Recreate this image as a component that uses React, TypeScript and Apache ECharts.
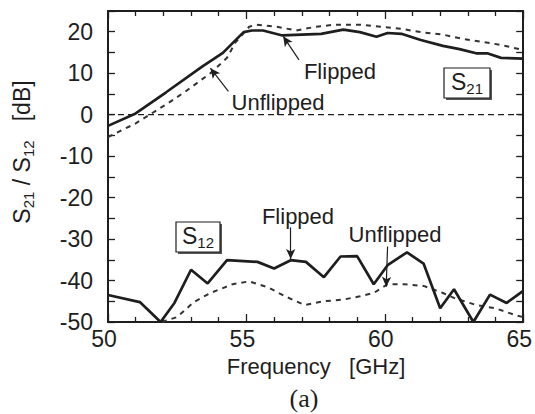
import React, { useEffect, useRef } from "react";
import * as echarts from "echarts";

// S21 curves
const s21FlippedFreq = [50, 51.0, 52.1, 53.4, 54.15, 54.9, 55.2, 55.6, 56.3, 57.0, 57.7, 58.5, 59.1, 59.7, 60.1, 60.6, 61.3, 62.1, 62.7, 63.3, 63.7, 64.2, 65];
const s21FlippedVal = [-2.7, 0.3, 5.4, 11.6, 14.9, 19.9, 20.3, 20.3, 19.1, 19.3, 19.5, 20.5, 19.9, 18.8, 19.7, 19.5, 18.0, 16.6, 15.8, 14.8, 14.8, 13.7, 13.5];
const s21UnflippedFreq = [50, 51.0, 51.6, 52.2, 52.8, 53.7, 54.3, 54.6, 55.1, 55.35, 56.1, 56.8, 57.5, 58.2, 59.1, 59.9, 60.6, 61.3, 62.1, 62.8, 63.5, 64.2, 65];
const s21UnflippedVal = [-5.4, -2.1, 0.4, 2.9, 5.6, 10.0, 13.7, 17.4, 21.2, 21.7, 21.2, 20.3, 21.2, 21.7, 21.7, 21.2, 20.7, 19.9, 19.3, 18.3, 17.6, 16.8, 15.6];

// S12 curves
const s12FlippedFreq = [50, 51.15, 51.9, 52.4, 53.0, 53.6, 54.3, 55.4, 56.0, 56.6, 57.15, 57.8, 58.4, 59.0, 59.6, 60.1, 60.8, 61.4, 62.0, 62.5, 63.2, 63.8, 64.4, 65];
const s12FlippedVal = [-43.5, -45.2, -50, -45.4, -37.4, -40.7, -35.1, -35.5, -37.1, -35.1, -35.5, -39.2, -34.2, -34.1, -40.9, -36.3, -33.2, -35.9, -46.7, -42.1, -50, -43.4, -45.4, -42.5];
const s12UnflippedFreq = [51.95, 52.5, 53.1, 53.7, 54.5, 55.1, 55.8, 56.4, 57.1, 57.8, 58.5, 59.1, 59.6, 60.1, 60.7, 61.4, 62.1, 62.5, 63.3, 64.0, 64.75, 65];
const s12UnflippedVal = [-50, -48.8, -45.2, -43.0, -40.9, -40.2, -41.7, -43.8, -45.9, -45.0, -44.6, -43.8, -43.0, -40.9, -40.9, -41.3, -43.0, -44.2, -45.9, -46.7, -48.4, -48.8];

// 0 dB reference
const zeroFreq = [50, 65];
const zeroVal = [0, 0];

// annotation arrows [fromFreq, fromVal, toFreq, toVal]
const arrowFlippedS21 = [56.9, 13.2, 56.33, 18.9];
const arrowUnflippedS21 = [54.35, 5.6, 53.7, 11.2];
const arrowFlippedS12 = [56.6, -27.2, 56.6, -34.8];
const arrowUnflippedS12 = [60.1, -31.8, 60.05, -41.5];

const xTicks = [50, 55, 60, 65];
const yTicks = [-50, -40, -30, -20, -10, 0, 10, 20];

const INK = "#1e1e1e";
const SANS = "'Liberation Sans', Arial, sans-serif";

const pairs = (xs: number[], ys: number[]) => xs.map((x, i) => [x, ys[i]]);
const arrow = (a: number[]) => [{ coord: [a[0], a[1]] }, { coord: [a[2], a[3]] }];

export default function App() {
  const ref = useRef<HTMLDivElement>(null);
  useEffect(() => {
    if (!ref.current) return;
    const chart = echarts.init(ref.current, null, { renderer: "svg" });
    const tickFont = { fontFamily: SANS, fontSize: 23, color: INK };
    const rich = {
      m: { fontSize: 23, fontFamily: SANS, fill: INK, color: INK, lineHeight: 28, verticalAlign: "middle" },
      s: { fontSize: 15, fontFamily: SANS, fill: INK, color: INK, lineHeight: 15, verticalAlign: "bottom" },
    };
    const axisCommon = {
      type: "value",
      axisLine: { show: true, onZero: false, lineStyle: { color: INK, width: 2 } },
      splitLine: { show: false },
    };
    const annot = (x: number, y: number, text: string) => ({
      type: "text", x, y,
      style: { text, fill: INK, font: `22px ${SANS}`, align: "center", verticalAlign: "middle" },
    });
    const option: any = {
      animation: false,
      backgroundColor: "#ffffff",
      grid: { left: 108, top: 11, right: 9, bottom: 92, containLabel: false },
      xAxis: [
        {
          ...axisCommon,
          min: 50, max: 65, interval: 5,
          position: "bottom",
          axisTick: { show: true, inside: true, length: 8, lineStyle: { color: INK, width: 1.3 } },
          minorTick: { show: true, splitNumber: 5, length: 5, lineStyle: { color: INK, width: 1.3 } },
          axisLabel: { ...tickFont, margin: 5, padding: [0, 8, 0, 0], formatter: (v: number) => (xTicks.includes(v) ? String(v) : "") },
        },
        {
          ...axisCommon,
          min: 50, max: 65, interval: 5,
          position: "top",
          axisTick: { show: true, inside: true, length: 8, lineStyle: { color: INK, width: 1.3 } },
          minorTick: { show: true, splitNumber: 5, length: 5, lineStyle: { color: INK, width: 1.3 } },
          axisLabel: { show: false },
        },
      ],
      yAxis: [
        {
          ...axisCommon,
          min: -50, max: 25, interval: 5,
          position: "left",
          axisTick: { show: true, inside: true, length: 7, lineStyle: { color: INK, width: 1.3 } },
          axisLabel: { ...tickFont, margin: 15, formatter: (v: number) => (yTicks.includes(v) ? String(v) : "") },
        },
        {
          ...axisCommon,
          min: -50, max: 25, interval: 5,
          position: "right",
          axisTick: { show: true, inside: true, length: 7, lineStyle: { color: INK, width: 1.3 } },
          axisLabel: { show: false },
        },
      ],
      series: [
        {
          name: "zero", type: "line", showSymbol: false, silent: true,
          data: pairs(zeroFreq, zeroVal),
          lineStyle: { color: INK, width: 1.4, type: [6, 4] },
        },
        {
          name: "S21 Unflipped", type: "line", showSymbol: false, silent: true,
          data: pairs(s21UnflippedFreq, s21UnflippedVal),
          lineStyle: { color: "#333", width: 2, type: [5, 5] },
        },
        {
          name: "S21 Flipped", type: "line", showSymbol: false, silent: true,
          data: pairs(s21FlippedFreq, s21FlippedVal),
          lineStyle: { color: INK, width: 2.7 },
          markLine: {
            silent: true, animation: false,
            symbol: ["none", "arrow"], symbolSize: [7, 10],
            label: { show: false },
            lineStyle: { color: INK, width: 1.2, type: "solid" },
            data: [arrow(arrowFlippedS21), arrow(arrowUnflippedS21), arrow(arrowFlippedS12), arrow(arrowUnflippedS12)],
          },
        },
        {
          name: "S12 Unflipped", type: "line", showSymbol: false, silent: true,
          data: pairs(s12UnflippedFreq, s12UnflippedVal),
          lineStyle: { color: "#333", width: 2, type: [5, 5] },
        },
        {
          name: "S12 Flipped", type: "line", showSymbol: false, silent: true,
          data: pairs(s12FlippedFreq, s12FlippedVal),
          lineStyle: { color: INK, width: 2.7 },
        },
      ],
      graphic: [
        // y-axis title
        {
          type: "text", x: 22, y: 152, rotation: Math.PI / 2,
          style: { text: "{m|S}{s|21}{m| / S}{s|12}{m|   [dB]}", rich, align: "center", verticalAlign: "middle" },
        },
        // x-axis title
        {
          type: "text", x: 316, y: 366,
          style: { text: "Frequency   [GHz]", fill: INK, font: `22px ${SANS}`, align: "center", verticalAlign: "middle" },
        },
        // (a)
        {
          type: "text", x: 304, y: 398,
          style: { text: "(a)", fill: INK, font: "26px 'Liberation Serif', 'Times New Roman', serif", align: "center", verticalAlign: "middle" },
        },
        // annotations
        annot(340, 71, "Flipped"),
        annot(278, 102, "Unflipped"),
        annot(298, 216, "Flipped"),
        annot(395, 234, "Unflipped"),
        // S21 box
        { type: "rect", shape: { x: 446, y: 70, width: 46, height: 30 }, style: { fill: "#555", stroke: null } },
        { type: "rect", shape: { x: 444, y: 68, width: 46, height: 30 }, style: { fill: "#fff", stroke: INK, lineWidth: 1.2 } },
        {
          type: "text", x: 467, y: 82,
          style: { text: "{m|S}{s|21}", rich, align: "center", verticalAlign: "middle" },
        },
        // S12 box
        { type: "rect", shape: { x: 178, y: 224, width: 44, height: 30 }, style: { fill: "#555", stroke: null } },
        { type: "rect", shape: { x: 176, y: 222, width: 44, height: 30 }, style: { fill: "#fff", stroke: INK, lineWidth: 1.2 } },
        {
          type: "text", x: 198, y: 236,
          style: { text: "{m|S}{s|12}", rich, align: "center", verticalAlign: "middle" },
        },
      ],
    };
    chart.setOption(option);
    return () => chart.dispose();
  }, []);
  return (
    <div
      ref={ref}
      style={{ position: "fixed", left: 0, top: 0, width: 535, height: 414, background: "#fff" }}
    />
  );
}
